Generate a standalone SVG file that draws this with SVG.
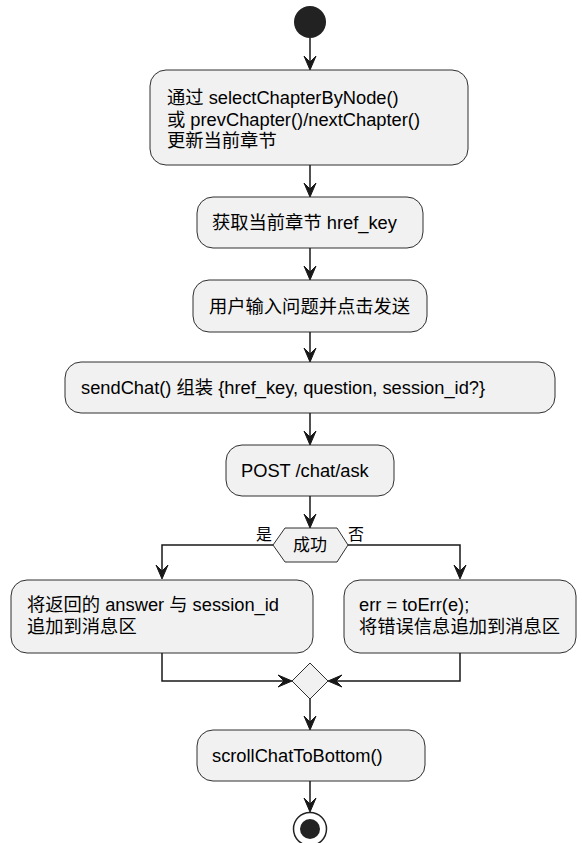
<svg xmlns="http://www.w3.org/2000/svg" width="582" height="843" viewBox="0 0 582 843">
<style>
.box{fill:#F1F1F1;stroke:#181818;stroke-width:0.9}
.t{font-family:"Liberation Sans","Noto Sans CJK SC",sans-serif;font-size:18.3px;fill:#000}
.s{font-family:"Liberation Sans","Noto Sans CJK SC",sans-serif;font-size:16px;fill:#000}
.ln{fill:none;stroke:#181818;stroke-width:1.5}
.ah{fill:#181818;stroke:#181818;stroke-width:1}
</style>
<rect width="582" height="843" fill="#FFFFFF"/>
<g id="connectors">
<line class="ln" x1="310" y1="38" x2="310" y2="66"/>
<polygon class="ah" points="304,56 310,70 316,56 310,62"/>
<line class="ln" x1="310" y1="165" x2="310" y2="193"/>
<polygon class="ah" points="304,183 310,197 316,183 310,189"/>
<line class="ln" x1="310" y1="248" x2="310" y2="276"/>
<polygon class="ah" points="304,266 310,280 316,266 310,272"/>
<line class="ln" x1="310" y1="332" x2="310" y2="358"/>
<polygon class="ah" points="304,348 310,362 316,348 310,354"/>
<line class="ln" x1="310" y1="413" x2="310" y2="441"/>
<polygon class="ah" points="304,431 310,445 316,431 310,437"/>
<line class="ln" x1="310" y1="496" x2="310" y2="524"/>
<polygon class="ah" points="304,514 310,528 316,514 310,520"/>
<polyline class="ln" points="273,545 162,545 162,575"/>
<polygon class="ah" points="156,565 162,579 168,565 162,571"/>
<polyline class="ln" points="348,545 460,545 460,575"/>
<polygon class="ah" points="454,565 460,579 466,565 460,571"/>
<polyline class="ln" points="162,653 162,681 288,681"/>
<polygon class="ah" points="278,675 292,681 278,687 284,681"/>
<polyline class="ln" points="460,653 460,681 332,681"/>
<polygon class="ah" points="342,675 328,681 342,687 336,681"/>
<line class="ln" x1="310" y1="699" x2="310" y2="726"/>
<polygon class="ah" points="304,716 310,730 316,716 310,722"/>
<line class="ln" x1="310" y1="781" x2="310" y2="808"/>
<polygon class="ah" points="304,798 310,812 316,798 310,804"/>
</g>
<g id="start"><circle cx="310" cy="22" r="16" fill="#222222"/></g>
<g id="n1">
<rect class="box" x="150" y="70" width="318" height="95" rx="16"/>
<text class="t" x="167" y="104">通过 selectChapterByNode()</text>
<text class="t" x="167" y="125.5">或 prevChapter()/nextChapter()</text>
<text class="t" x="167" y="147">更新当前章节</text>
</g>
<g id="n2">
<rect class="box" x="197" y="197" width="226" height="51" rx="16"/>
<text class="t" x="212" y="229">获取当前章节 href_key</text>
</g>
<g id="n3">
<rect class="box" x="193" y="280" width="234" height="52" rx="16"/>
<text class="t" x="209" y="313">用户输入问题并点击发送</text>
</g>
<g id="n4">
<rect class="box" x="65" y="362" width="490" height="51" rx="16"/>
<text class="t" x="81" y="394">sendChat() 组装 {href_key, question, session_id?}</text>
</g>
<g id="n5">
<rect class="box" x="226" y="445" width="168" height="51" rx="16"/>
<text class="t" x="241" y="477">POST /chat/ask</text>
</g>
<g id="decision">
<polygon class="box" points="273,545 285,528 337,528 348,545 337,562 285,562"/>
<text class="s" x="310" y="551" text-anchor="middle" style="font-size:17px">成功</text>
<text class="s" x="264" y="540" text-anchor="middle">是</text>
<text class="s" x="356" y="540" text-anchor="middle">否</text>
</g>
<g id="n6">
<rect class="box" x="11" y="580" width="302" height="73" rx="16"/>
<text class="t" x="27" y="611">将返回的 answer 与 session_id</text>
<text class="t" x="27" y="632.5">追加到消息区</text>
</g>
<g id="n7">
<rect class="box" x="344" y="580" width="232" height="73" rx="16"/>
<text class="t" x="359" y="611">err = toErr(e);</text>
<text class="t" x="359" y="632.5">将错误信息追加到消息区</text>
</g>
<g id="merge">
<polygon class="box" points="310,663 328,681 310,699 292,681"/>
</g>
<g id="n8">
<rect class="box" x="197" y="730" width="228" height="51" rx="16"/>
<text class="t" x="212" y="762">scrollChatToBottom()</text>
</g>
<g id="end">
<circle cx="310" cy="829" r="16.5" fill="#FFFFFF" stroke="#222222" stroke-width="1.5"/>
<circle cx="310" cy="829" r="10" fill="#222222"/>
</g>
</svg>
